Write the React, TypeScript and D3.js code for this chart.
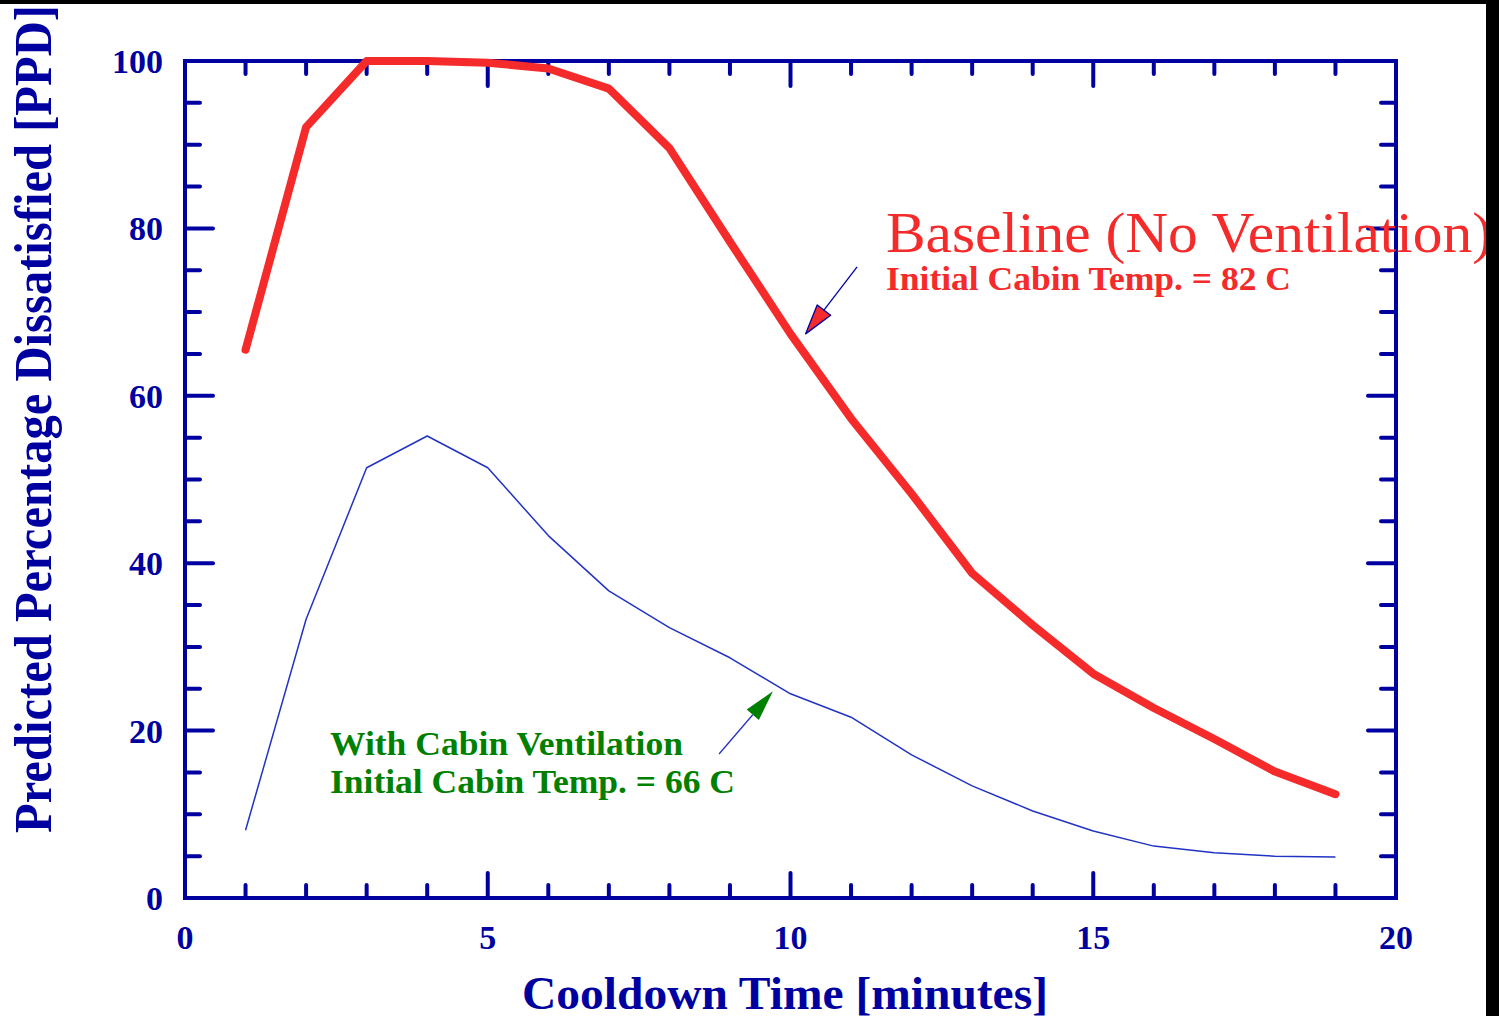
import React from "react";
import * as d3 from "d3";

// Cooldown time in minutes
const minutes = [1, 2, 3, 4, 5, 6, 7, 8, 9, 10, 11, 12, 13, 14, 15, 16, 17, 18, 19];
// PPD, baseline case (no ventilation)
const baselinePPD = [65.5, 92.1, 100, 100, 99.8, 99.1, 96.7, 89.6, 78.4, 67.4, 57.3, 48.3, 38.8, 32.6, 26.8, 22.7, 19.0, 15.1, 12.4];
// PPD, with cabin ventilation
const ventilatedPPD = [8.1, 33.3, 51.4, 55.2, 51.4, 43.3, 36.7, 32.3, 28.7, 24.4, 21.6, 17.1, 13.4, 10.4, 8.0, 6.2, 5.4, 5.0, 4.9];

const xTicks = [0, 5, 10, 15, 20];
const yTicks = [0, 20, 40, 60, 80, 100];

const W = 1499;
const H = 1016;
const left = 185;
const right = 1396;
const top = 61;
const bottom = 898;

const AXIS = "#0000a0";
const RED = "#f52a2a";
const GREEN = "#008000";
const LINE_BLUE = "#2233c4";
const SERIF = "'Liberation Serif', 'Times New Roman', serif";

const x = d3.scaleLinear().domain([0, 20]).range([left, right]);
const y = d3.scaleLinear().domain([0, 100]).range([bottom, top]);

function arrowHead(tail: [number, number], tip: [number, number], len: number, half: number) {
  const dx = tip[0] - tail[0];
  const dy = tip[1] - tail[1];
  const d = Math.hypot(dx, dy);
  const ux = dx / d;
  const uy = dy / d;
  const bx = tip[0] - ux * len;
  const by = tip[1] - uy * len;
  const p1: [number, number] = [bx - uy * half, by + ux * half];
  const p2: [number, number] = [bx + uy * half, by - ux * half];
  return { base: [bx, by] as [number, number], pts: [tip, p1, p2] };
}

export default function App() {
  const line = d3
    .line<number>()
    .x((_, i) => x(minutes[i]))
    .y((v) => y(v));

  const minorX = d3.range(0, 21, 1);
  const minorY = d3.range(0, 101, 5);

  // annotation arrows, in data units
  const redTail: [number, number] = [x(11.10), y(75.4)];
  const redTip: [number, number] = [x(10.25), y(67.4)];
  const greenTail: [number, number] = [x(8.82), y(17.2)];
  const greenTip: [number, number] = [x(9.71), y(24.7)];
  const ra = arrowHead(redTail, redTip, 30, 8.5);
  const ga = arrowHead(greenTail, greenTip, 31, 8);

  const tickLen = (major: boolean, horizontal: boolean) =>
    major ? (horizontal ? 25 : 28) : horizontal ? 13 : 15;

  return (
    <svg
      width={W}
      height={H}
      style={{ position: "absolute", left: 0, top: 0, background: "#fff" }}
      fontFamily={SERIF}
    >
      <rect x={0} y={0} width={W} height={H} fill="#fff" />

      {/* ticks on all four sides, pointing inward */}
      <g stroke={AXIS} strokeWidth={4} strokeLinecap="round">
        {minorX.map((t) => {
          const major = t % 5 === 0;
          const L = tickLen(major, true);
          return (
            <g key={"xt" + t}>
              <line x1={x(t)} x2={x(t)} y1={bottom} y2={bottom - L} />
              <line x1={x(t)} x2={x(t)} y1={top} y2={top + L} />
            </g>
          );
        })}
        {minorY.map((t) => {
          const major = t % 20 === 0;
          const L = tickLen(major, false);
          return (
            <g key={"yt" + t}>
              <line x1={left} x2={left + L} y1={y(t)} y2={y(t)} />
              <line x1={right} x2={right - L} y1={y(t)} y2={y(t)} />
            </g>
          );
        })}
      </g>
      <rect
        x={left}
        y={top}
        width={right - left}
        height={bottom - top}
        fill="none"
        stroke={AXIS}
        strokeWidth={4}
      />

      {/* tick labels */}
      <g fill={AXIS} fontWeight="bold" fontSize={34}>
        {yTicks.map((t) => (
          <text key={"yl" + t} x={163} y={y(t) + 12} textAnchor="end">
            {t}
          </text>
        ))}
        {xTicks.map((t) => (
          <text key={"xl" + t} x={x(t)} y={949} textAnchor="middle">
            {t}
          </text>
        ))}
      </g>

      {/* axis titles */}
      <text
        x={785}
        y={1009}
        textAnchor="middle"
        fill={AXIS}
        fontWeight="bold"
        fontSize={47}
        textLength={526}
        lengthAdjust="spacingAndGlyphs"
      >
        Cooldown Time [minutes]
      </text>
      <text
        transform={`translate(51, 833) rotate(-90)`}
        x={0}
        y={0}
        fill={AXIS}
        fontWeight="bold"
        fontSize={52}
        textLength={828}
        lengthAdjust="spacingAndGlyphs"
      >
        Predicted Percentage Dissatisfied [PPD]
      </text>

      {/* data series */}
      <path
        d={line(ventilatedPPD) || ""}
        fill="none"
        stroke={LINE_BLUE}
        strokeWidth={1.5}
        strokeLinejoin="round"
      />
      <path
        d={line(baselinePPD) || ""}
        fill="none"
        stroke={RED}
        strokeWidth={8}
        strokeLinejoin="round"
        strokeLinecap="round"
      />

      {/* baseline annotation */}
      <line x1={redTail[0]} y1={redTail[1]} x2={ra.base[0]} y2={ra.base[1]} stroke={AXIS} strokeWidth={1.3} />
      <polygon
        points={ra.pts.map((p) => p.join(",")).join(" ")}
        fill={RED}
        stroke={AXIS}
        strokeWidth={1.3}
        strokeLinejoin="round"
      />
      <text x={886} y={252} fill={RED} fontSize={58} textLength={606} lengthAdjust="spacingAndGlyphs">
        Baseline (No Ventilation)
      </text>
      <text x={886} y={290} fill={RED} fontSize={33} fontWeight="bold" textLength={405} lengthAdjust="spacingAndGlyphs">
        Initial Cabin Temp. = 82 C
      </text>

      {/* ventilation annotation */}
      <line x1={greenTail[0]} y1={greenTail[1]} x2={ga.base[0]} y2={ga.base[1]} stroke={LINE_BLUE} strokeWidth={1.3} />
      <polygon points={ga.pts.map((p) => p.join(",")).join(" ")} fill={GREEN} />
      <text x={330} y={755} fill={GREEN} fontSize={33} fontWeight="bold" textLength={353} lengthAdjust="spacingAndGlyphs">
        With Cabin Ventilation
      </text>
      <text x={330} y={793} fill={GREEN} fontSize={33} fontWeight="bold" textLength={405} lengthAdjust="spacingAndGlyphs">
        Initial Cabin Temp. = 66 C
      </text>

      {/* page edges */}
      <rect x={0} y={0} width={W} height={4} fill="#000" />
      <rect x={1486} y={0} width={W - 1486} height={H} fill="#000" />
    </svg>
  );
}
